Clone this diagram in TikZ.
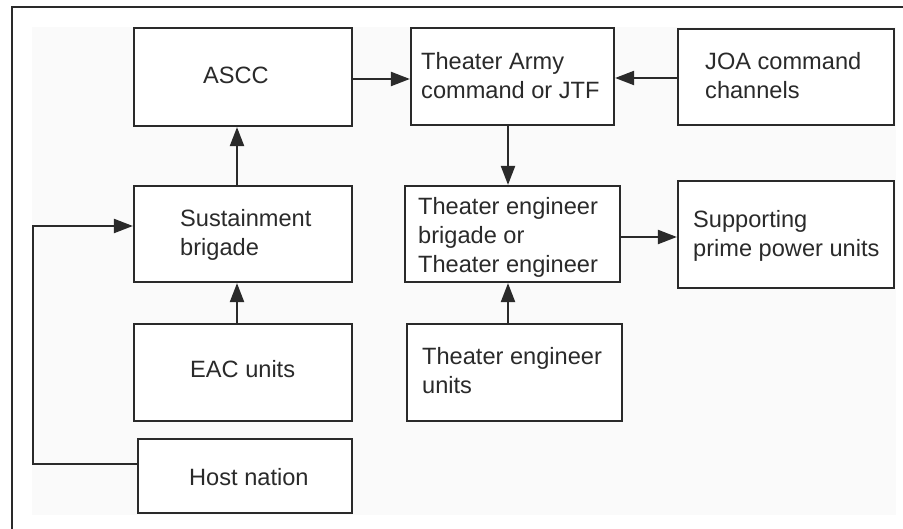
\documentclass[tikz,border=0pt]{standalone}
\usepackage{fontspec}
\setmainfont{Liberation Sans}
\usetikzlibrary{arrows.meta}
\definecolor{ink}{HTML}{2A2A2A}
\definecolor{bgpanel}{HTML}{FAFAFA}
\tikzset{
  box/.style={draw=ink, line width=2.2pt, fill=white, inner sep=0pt, minimum width=#1},
  lbl/.style={anchor=base west, align=left, inner sep=0pt, text=ink,
              font=\fontsize{23.6}{29}\selectfont},
  arr/.style={draw=ink, line width=2.2pt, -{Triangle[length=19pt,width=14pt]}},
  frameline/.style={draw=ink, line width=2pt}
}
\begin{document}
\begin{tikzpicture}[x=1pt,y=-1pt]
\useasboundingbox (0,0) rectangle (903,529);
\fill[bgpanel] (32,27) rectangle (896,515);
\draw[frameline] (12,529) -- (12,7) -- (903,7);
% boxes
\node[box=218pt, minimum height=98pt] (ascc) at (243,77) {};
\node[box=203pt, minimum height=97pt] (ta) at (512.5,76.5) {};
\node[box=216pt, minimum height=96pt] (joa) at (786,77) {};
\node[box=218pt, minimum height=96pt] (sus) at (243,234) {};
\node[box=215pt, minimum height=96pt] (teb) at (512.5,234) {};
\node[box=216pt, minimum height=107pt] (sup) at (786,234.5) {};
\node[box=218pt, minimum height=97pt] (eac) at (243,372.5) {};
\node[box=215pt, minimum height=97pt] (teu) at (514.5,372.5) {};
\node[box=214pt, minimum height=74pt] (host) at (245,476) {};
% labels (anchor = baseline of the last line)
\node[lbl] (asccT) at (203,84) {ASCC};
\node[lbl] (taT) at (421,98.5) {Theater Army\\command or JTF};
\node[lbl] (joaT) at (705,98.5) {JOA command\\channels};
\node[lbl] (susT) at (180,256) {Sustainment\\brigade};
\node[lbl] (tebT) at (418,272.5) {Theater engineer\\brigade or\\Theater engineer};
\node[lbl] (supT) at (693,257) {Supporting\\prime power units};
\node[lbl] (eacT) at (190,378) {EAC units};
\node[lbl] (teuT) at (422,393.5) {Theater engineer\\units};
\node[lbl] (hostT) at (189,485) {Host nation};
% connectors
\draw[arr] ([yshift=-2pt]ascc.east) -- ([yshift=-2pt]ascc.east -| ta.west);
\draw[arr] ([yshift=-1pt]joa.west) -- ([yshift=-1pt]joa.west -| ta.east);
\draw[arr] ([xshift=-4.5pt]ta.south) -- ([xshift=-4.5pt]ta.south |- teb.north);
\draw[arr] ([xshift=-6pt]sus.north) -- ([xshift=-6pt]sus.north |- ascc.south);
\draw[arr] ([xshift=-6pt]eac.north) -- ([xshift=-6pt]eac.north |- sus.south);
\draw[arr] ([xshift=-6.5pt]teu.north) -- ([xshift=-6.5pt]teu.north |- teb.south);
\draw[arr] ([yshift=-3pt]teb.east) -- ([yshift=-3pt]teb.east -| sup.west);
\coordinate (hl) at (33,226);
\draw[arr] ([yshift=12pt]host.west) -| (hl) -- (hl -| sus.west);
\end{tikzpicture}
\end{document}
